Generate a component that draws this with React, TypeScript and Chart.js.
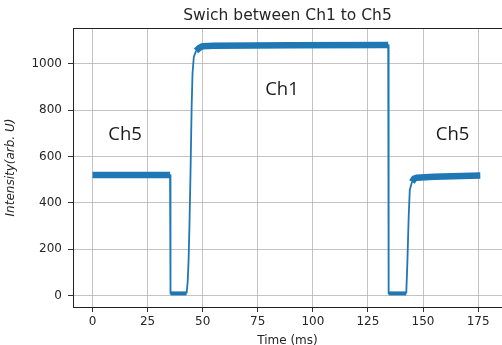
import React, { useEffect, useRef } from "react";
import { Chart, registerables } from "chart.js";

Chart.register(...registerables);

// Signal trace (time in ms, intensity in arb. U)
const timeMs = [
  0, 35.2, 35.4, 42.7, 43.2, 43.6, 44.0, 44.5, 45.0, 45.4, 46.0, 47.0, 48.5, 50.0, 55.0,
  90.0, 134.2, 134.4, 142.4, 142.9, 143.5, 144.0, 145.0, 146.0, 147.0, 155.0, 176.0,
];
const intensity = [
  520, 520, 10, 10, 60, 150, 300, 540, 815, 960, 1030, 1055, 1068, 1075, 1077,
  1079, 1080, 10, 10, 142, 341, 456, 490, 505, 508, 513, 518,
];

const xTicks = [0, 25, 50, 75, 100, 125, 150, 175];
const yTicks = [0, 200, 400, 600, 800, 1000];

const noteText = ["Ch5", "Ch1", "Ch5"];
const noteTime = [14.8, 86, 163.4];
const noteIntensity = [694, 888, 694];

const LINE = "#1f77b4";
const GRID = "rgba(176,176,176,0.75)";
const INK = "#262626";

const frame = {
  id: "frame",
  afterDraw(chart: any) {
    const { ctx, chartArea: a } = chart;
    ctx.save();
    ctx.strokeStyle = "#222";
    ctx.lineWidth = 1;
    ctx.beginPath();
    ctx.moveTo(a.left, Math.round(a.top) + 0.5);
    ctx.lineTo(a.right, Math.round(a.top) + 0.5);
    ctx.stroke();
    ctx.restore();
  },
};

const notes = {
  id: "notes",
  afterDatasetsDraw(chart: any) {
    const { ctx, scales } = chart;
    ctx.save();
    ctx.fillStyle = "#1a1a1a";
    ctx.font = "18.5px 'Open Sans'";
    ctx.textAlign = "center";
    ctx.textBaseline = "middle";
    noteText.forEach((t, i) => {
      ctx.fillText(t, scales.x.getPixelForValue(noteTime[i]), scales.y.getPixelForValue(noteIntensity[i]));
    });
    ctx.restore();
  },
};

export default function App() {
  const ref = useRef<HTMLCanvasElement | null>(null);

  useEffect(() => {
    if (!ref.current) return;
    const data = timeMs.map((t, i) => ({ x: t, y: intensity[i] }));
    const chart = new Chart(ref.current, {
      type: "line",
      data: {
        datasets: [
          {
            data,
            borderColor: LINE,
            backgroundColor: LINE,
            pointRadius: 0,
            tension: 0,
            borderCapStyle: "butt",
            borderJoinStyle: "round",
            borderWidth: 1.8,
            segment: {
              borderWidth: (c: any) => {
                const y0 = c.p0.parsed.y, y1 = c.p1.parsed.y;
                const dx = Math.max(1e-6, c.p1.parsed.x - c.p0.parsed.x);
                const slope = Math.abs(y1 - y0) / dx;
                if (slope > 20) return 1.8;
                return Math.max(y0, y1) < 100 ? 4 : 6.5;
              },
            },
          },
        ],
      },
      options: {
        responsive: false,
        animation: false,
        layout: { padding: { left: 0, right: -3, top: 0, bottom: 0 } },
        plugins: {
          legend: { display: false },
          tooltip: { enabled: false },
          title: {
            display: true,
            text: "Swich between Ch1 to Ch5",
            color: INK,
            fullSize: false,
            font: { family: "'DejaVu Sans'", size: 15.5, weight: "normal" },
            padding: { top: 7, bottom: 2.4 },
          },
        },
        scales: {
          x: {
            type: "linear",
            min: -8.85,
            max: 185.85,
            afterBuildTicks: (s: any) => {
              s.ticks = xTicks.map((v) => ({ value: v }));
            },
            afterFit: (s: any) => {
              s.height = 38;
            },
            ticks: {
              color: INK,
              padding: 3,
              font: { family: "'DejaVu Sans'", size: 12 },
              callback: (v: any) => String(v),
            },
            grid: { color: GRID, lineWidth: 1, tickColor: "#333", tickLength: 5 },
            border: { display: true, color: "#222", width: 1 },
            title: {
              display: true,
              text: "Time (ms)",
              color: INK,
              font: { family: "'DejaVu Sans'", size: 12 },
              padding: { top: 0, bottom: -3 },
            },
          },
          y: {
            type: "linear",
            min: -48.6,
            max: 1153.7,
            afterBuildTicks: (s: any) => {
              s.ticks = yTicks.map((v) => ({ value: v }));
            },
            afterFit: (s: any) => {
              s.width = 73;
            },
            ticks: {
              color: INK,
              padding: 6,
              font: { family: "'DejaVu Sans'", size: 12 },
              callback: (v: any) => String(v),
            },
            grid: { color: GRID, lineWidth: 1, tickColor: "#333", tickLength: 5 },
            border: { display: true, color: "#222", width: 1 },
            title: {
              display: true,
              text: "Intensity(arb. U)",
              color: INK,
              font: { family: "'DejaVu Sans'", size: 12, style: "italic" },
              padding: { top: 4, bottom: 0 },
            },
          },
        },
      },
      plugins: [frame, notes],
    } as any);
    return () => chart.destroy();
  }, []);

  return (
    <div style={{ position: "absolute", left: 0, top: 0, width: 502, height: 345, background: "#fff" }}>
      <canvas ref={ref} width={502} height={345} style={{ display: "block" }} />
    </div>
  );
}
